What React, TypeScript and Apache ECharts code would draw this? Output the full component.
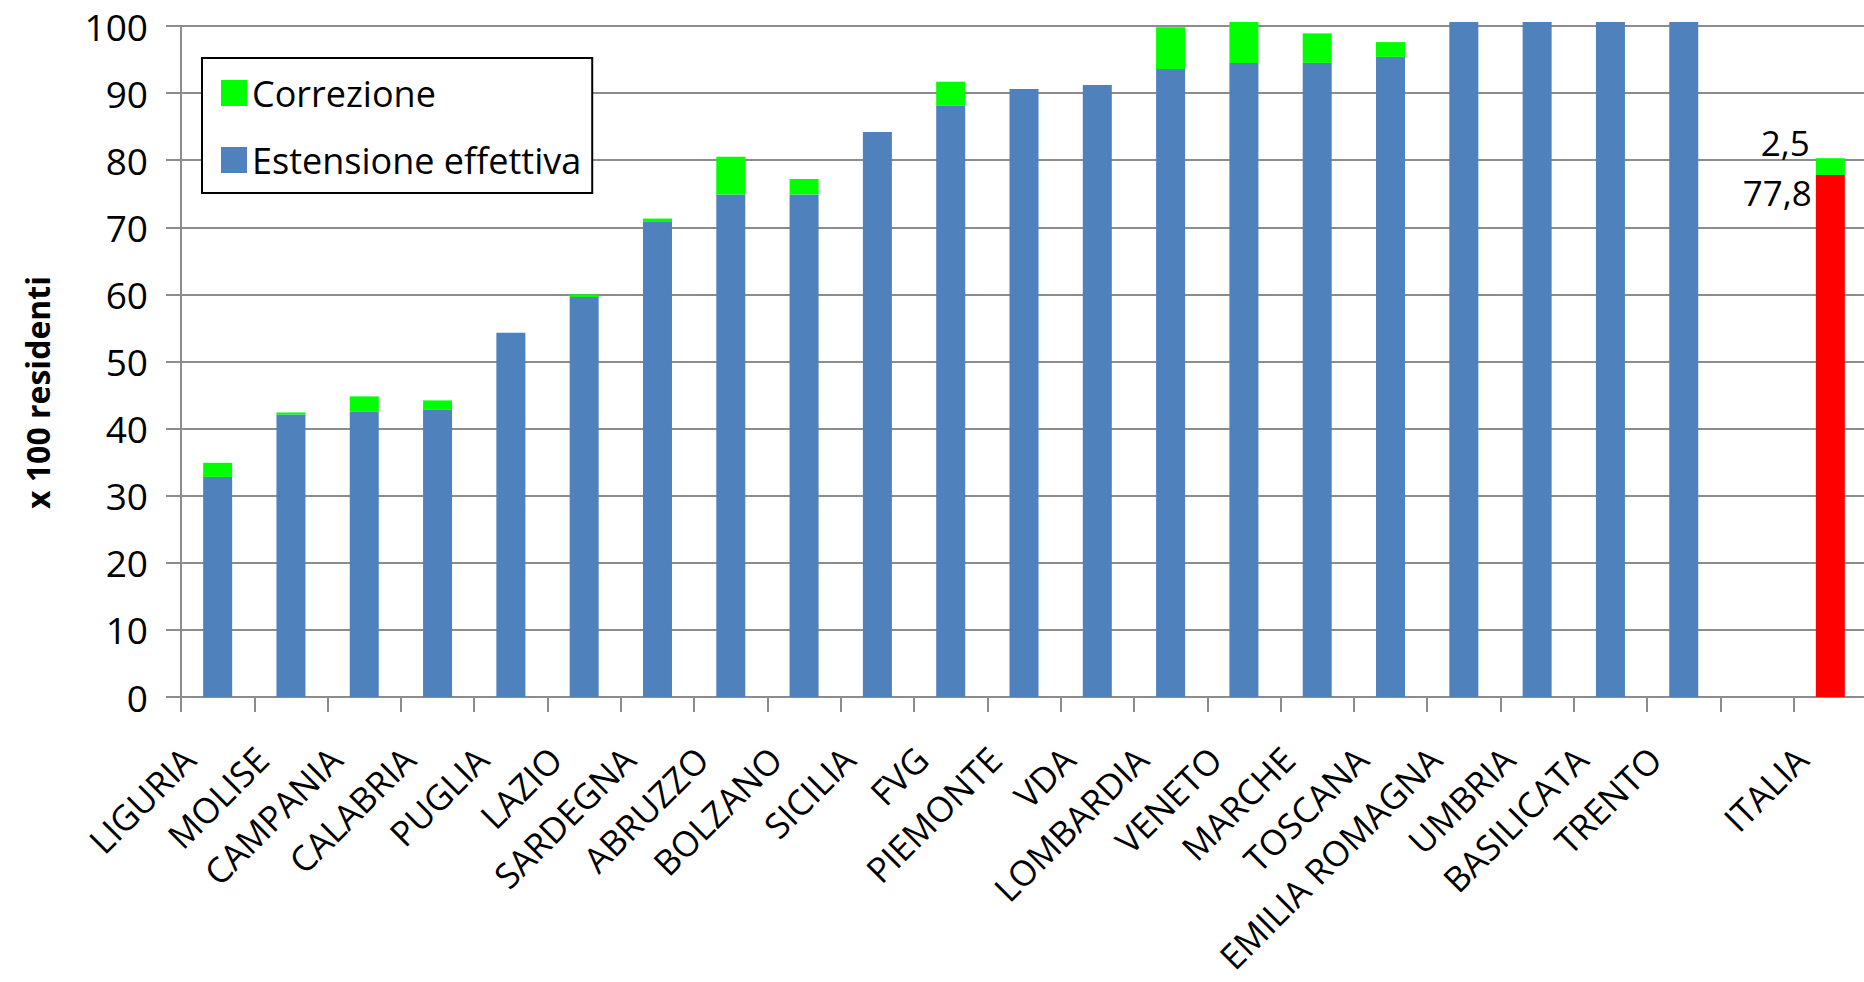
import React, { useEffect, useRef } from "react";
import * as echarts from "echarts";

const categories = [
  "LIGURIA", "MOLISE", "CAMPANIA", "CALABRIA", "PUGLIA", "LAZIO", "SARDEGNA",
  "ABRUZZO", "BOLZANO", "SICILIA", "FVG", "PIEMONTE", "VDA", "LOMBARDIA",
  "VENETO", "MARCHE", "TOSCANA", "EMILIA ROMAGNA", "UMBRIA", "BASILICATA",
  "TRENTO", "", "ITALIA",
];

const estensioneEffettiva = [
  32.8, 42.1, 42.5, 42.8, 54.3, 59.6, 70.8,
  74.9, 74.9, 84.2, 88.1, 90.6, 91.2, 93.6,
  94.5, 94.5, 95.4, 100.6, 100.6, 100.6,
  100.6, null, 77.8,
];

const correzione = [
  2.1, 0.3, 2.3, 1.4, 0, 0.4, 0.5,
  5.6, 2.3, 0, 3.6, 0, 0, 6.2,
  6.1, 4.4, 2.2, 0, 0, 0,
  0, null, 2.5,
];

const yTicks = { min: 0, max: 100, interval: 10 };
const labelledCategory = "ITALIA";

const FONT = "'Open Sans', 'Liberation Sans', sans-serif";

export default function App() {
  const ref = useRef<HTMLDivElement>(null);

  useEffect(() => {
    if (!ref.current) return;
    const chart = echarts.init(ref.current, null, { renderer: "svg" });
    const fmt = (p: any) => String(p.value).replace(".", ",");

    const blueData = estensioneEffettiva.map((v, i) =>
      categories[i] === labelledCategory
        ? {
            value: v,
            itemStyle: { color: "#FF0000" },
            label: {
              show: true,
              formatter: fmt,
              position: [-4, 0],
              align: "right",
              verticalAlign: "top",
              fontSize: 35,
              fontFamily: FONT,
              color: "#000",
            },
          }
        : v
    );
    const greenData = correzione.map((v, i) =>
      categories[i] === labelledCategory
        ? {
            value: v,
            label: {
              show: true,
              formatter: fmt,
              position: [-6, 2],
              align: "right",
              verticalAlign: "bottom",
              fontSize: 35,
              fontFamily: FONT,
              color: "#000",
            },
          }
        : v
    );

    chart.setOption({
      animation: false,
      backgroundColor: "#fff",
      textStyle: { fontFamily: FONT },
      grid: {
        left: 181,
        right: -3,
        top: 26,
        bottom: 285,
        containLabel: false,
        outerBoundsMode: "none",
      },
      legend: {
        data: ["Correzione", "Estensione effettiva"],
        orient: "vertical",
        left: 202,
        top: 58,
        icon: "rect",
        itemWidth: 26,
        itemHeight: 26,
        itemGap: 31,
        itemStyle: { borderWidth: 0 },
        padding: [17, 11, 15, 19],
        backgroundColor: "#fff",
        borderColor: "#000",
        borderWidth: 2,
        borderRadius: 0,
        textStyle: { fontSize: 36, color: "#000", fontFamily: FONT },
        itemTextGap: 17,
        selectedMode: false,
      },
      xAxis: {
        type: "category",
        data: categories,
        axisLine: { lineStyle: { color: "#8c8c8c", width: 2 } },
        axisTick: { show: true, length: 15, lineStyle: { color: "#8c8c8c", width: 2 } },
        axisLabel: {
          interval: 0,
          rotate: 45,
          margin: 27,
          fontSize: 35,
          color: "#000",
          fontFamily: FONT,
          padding: [0, 41, 0, 0],
        },
      },
      yAxis: {
        type: "value",
        min: yTicks.min,
        max: yTicks.max,
        interval: yTicks.interval,
        name: "x 100 residenti",
        nameLocation: "middle",
        nameGap: 128,
        nameTextStyle: {
          fontSize: 32,
          fontWeight: "bold",
          color: "#000",
          fontFamily: FONT,
          padding: [0, 62, 0, 0],
        },
        axisLine: { show: true, lineStyle: { color: "#8c8c8c", width: 2 } },
        axisTick: { show: true, length: 15, lineStyle: { color: "#8c8c8c", width: 2 } },
        splitLine: { lineStyle: { color: "#8c8c8c", width: 2 } },
        axisLabel: { fontSize: 37, color: "#000", margin: 33, fontFamily: FONT },
      },
      series: [
        {
          name: "Estensione effettiva",
          type: "bar",
          stack: "tot",
          barWidth: 29,
          clip: false,
          itemStyle: { color: "#4F81BD" },
          data: blueData,
        },
        {
          name: "Correzione",
          type: "bar",
          stack: "tot",
          barWidth: 29,
          clip: false,
          itemStyle: { color: "#00FF00" },
          data: greenData,
        },
      ],
    });

    return () => chart.dispose();
  }, []);

  return (
    <div
      ref={ref}
      style={{ position: "fixed", left: 0, top: 0, width: 1864, height: 982 }}
    />
  );
}
